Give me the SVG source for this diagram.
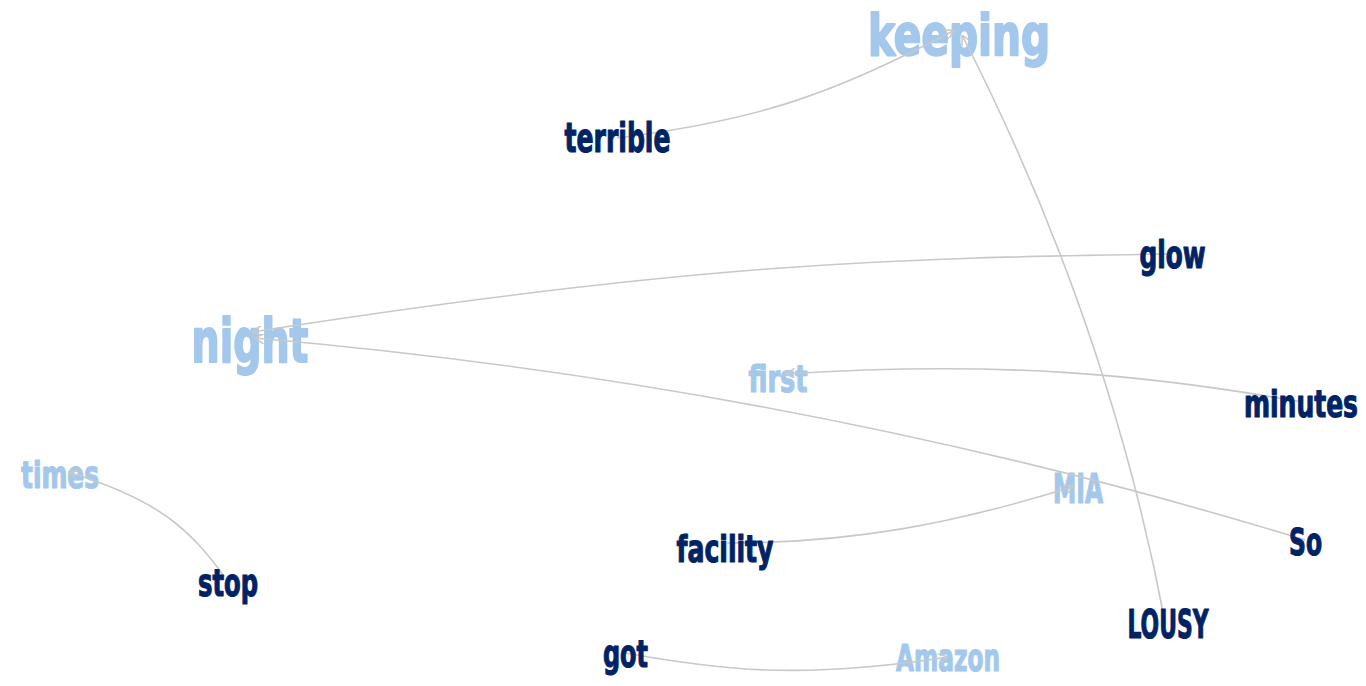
<svg xmlns="http://www.w3.org/2000/svg" width="1366" height="686" viewBox="0 0 1366 686">
<defs>
<style>
.t{font-family:"Liberation Sans Narrow","DejaVu Sans Condensed","Liberation Sans",sans-serif;font-weight:bold;text-anchor:middle;stroke-linejoin:round;}
.lt{fill:#a3c8ec;stroke:#a3c8ec;stroke-width:1.2;}
.big{stroke-width:2;}
.dk{fill:#002366;stroke:#002366;stroke-width:1.1;}
.e{fill:none;stroke:#c8c8c8;stroke-width:1.6;marker-end:url(#arr);}
</style>
<marker id="arr" viewBox="0 -5 10 10" refX="10" refY="0" markerWidth="10" markerHeight="10" markerUnits="userSpaceOnUse" orient="auto">
<path d="M0,-5L10,0L0,5" fill="none" stroke="#c8c8c8" stroke-width="1.5"/>
</marker>
</defs>
<rect width="1366" height="686" fill="#ffffff"/>
<g id="node-keeping"><text class="t lt big" x="959" y="55" font-size="57" textLength="182" lengthAdjust="spacingAndGlyphs">keeping</text></g>
<g id="node-night"><text class="t lt big" x="250" y="362" font-size="61" textLength="117" lengthAdjust="spacingAndGlyphs">night</text></g>
<g id="node-first"><text class="t lt" x="778" y="392" font-size="38" textLength="59" lengthAdjust="spacingAndGlyphs">first</text></g>
<g id="node-times"><text class="t lt" x="60" y="488" font-size="38" textLength="78" lengthAdjust="spacingAndGlyphs">times</text></g>
<g id="node-MIA"><text class="t lt" x="1078" y="503" font-size="40" textLength="50" lengthAdjust="spacingAndGlyphs">MIA</text></g>
<g id="node-Amazon"><text class="t lt" x="948" y="671" font-size="37" textLength="104" lengthAdjust="spacingAndGlyphs">Amazon</text></g>
<g id="connectors">
<path class="e" d="M617,138 C760,120 830,95 955,30"/>
<path class="e" d="M1165,622 Q1108,320 962,35"/>
<path class="e" d="M1172,254 C900,258 700,262 252,332"/>
<path class="e" d="M1305,540 Q800,385 254,338"/>
<path class="e" d="M1302,402 C1150,375 1000,360 785,374"/>
<path class="e" d="M224,576 C190,530 160,500 68,472"/>
<path class="e" d="M727,543 C850,543 950,525 1075,486"/>
<path class="e" d="M625,653 C720,670 800,680 948,657"/>
</g>
<g id="node-terrible"><text class="t dk" x="617.5" y="152" font-size="40" textLength="106" lengthAdjust="spacingAndGlyphs">terrible</text></g>
<g id="node-glow"><text class="t dk" x="1172.5" y="268" font-size="37" textLength="66" lengthAdjust="spacingAndGlyphs">glow</text></g>
<g id="node-minutes"><text class="t dk" x="1358" y="417" font-size="38" text-anchor="end" style="text-anchor:end" textLength="114" lengthAdjust="spacingAndGlyphs">minutes</text></g>
<g id="node-facility"><text class="t dk" x="725" y="562" font-size="38" textLength="97" lengthAdjust="spacingAndGlyphs">facility</text></g>
<g id="node-So"><text class="t dk" x="1305.5" y="555" font-size="38" textLength="33" lengthAdjust="spacingAndGlyphs">So</text></g>
<g id="node-stop"><text class="t dk" x="228" y="596" font-size="38" textLength="60" lengthAdjust="spacingAndGlyphs">stop</text></g>
<g id="node-LOUSY"><text class="t dk" x="1168" y="638" font-size="39" textLength="81" lengthAdjust="spacingAndGlyphs">LOUSY</text></g>
<g id="node-got"><text class="t dk" x="625.5" y="667" font-size="37" textLength="45" lengthAdjust="spacingAndGlyphs">got</text></g>
</svg>
